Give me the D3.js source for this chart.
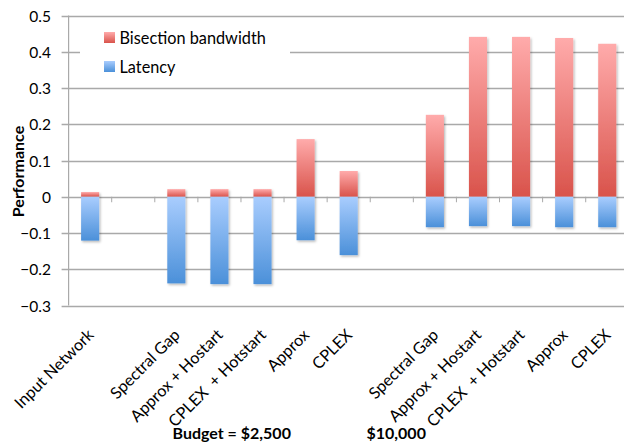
<!DOCTYPE html>
<html>
<head>
<meta charset="utf-8">
<script src="https://cdn.jsdelivr.net/npm/d3@7"></script>
<style>
  html, body { margin: 0; padding: 0; background: #fff; }
  svg { display: block; }
  text { font-family: Lato, "Open Sans", sans-serif; fill: #000; }
</style>
</head>
<body>
<svg id="chart" width="624" height="443"></svg>
<script>
// Category slots along the x axis; empty strings are spacer slots between groups.
const categories = [
  "Input Network", "",
  "Spectral Gap", "Approx + Hostart", "CPLEX  + Hotstart", "Approx", "CPLEX", "",
  "Spectral Gap", "Approx + Hostart", "CPLEX  + Hotstart", "Approx", "CPLEX"
];
// Series values per slot (null = no bar).
const bandwidth = [0.013, null, 0.021, 0.021, 0.021, 0.159, 0.071, null, 0.226, 0.441, 0.441, 0.438, 0.422];
const latency   = [-0.121, null, -0.239, -0.241, -0.241, -0.120, -0.161, null, -0.084, -0.081, -0.081, -0.084, -0.084];
const yTicks = [-0.3, -0.2, -0.1, 0, 0.1, 0.2, 0.3, 0.4, 0.5];
const seriesNames = ["Bisection bandwidth", "Latency"];
const groupLabels = ["Budget = $2,500", "$10,000"];

const svg = d3.select("#chart");
const defs = svg.append("defs");

function grad(id, c0, c1) {
  const g = defs.append("linearGradient").attr("id", id)
    .attr("x1", 0).attr("y1", 0).attr("x2", 0).attr("y2", 1);
  g.append("stop").attr("offset", "0%").attr("stop-color", c0);
  g.append("stop").attr("offset", "100%").attr("stop-color", c1);
}
grad("gRed", "#ffabab", "#d9534b");
grad("gBlue", "#a9cdfe", "#4b90d9");

const shadow = defs.append("filter").attr("id", "shadow")
  .attr("x", "-30%").attr("y", "-10%").attr("width", "160%").attr("height", "130%");
shadow.append("feDropShadow").attr("dx", 1.2).attr("dy", 1.5)
  .attr("stdDeviation", 1).attr("flood-color", "#000").attr("flood-opacity", 0.28);

const plotLeft = 68.6, plotRight = 628.8, plotTop = 15.5, plotBottom = 305.5;

const x = d3.scaleBand()
  .domain(d3.range(categories.length))
  .range([plotLeft, plotRight])
  .paddingInner(0.58)
  .paddingOuter(0.29);
const step = x.step();

const y = d3.scaleLinear().domain([-0.3, 0.5]).range([plotBottom, plotTop]);

// Horizontal gridlines with small outer ticks on the value axis
const gridColor = "#a9a9a9";
svg.append("g").selectAll("line").data(yTicks).join("line")
  .attr("x1", plotLeft - 7).attr("x2", 624)
  .attr("y1", d => Math.round(y(d)) + 0.5).attr("y2", d => Math.round(y(d)) + 0.5)
  .attr("stroke", gridColor).attr("stroke-width", 1.3);

// Value axis line
svg.append("line")
  .attr("x1", plotLeft).attr("x2", plotLeft)
  .attr("y1", y(0.5)).attr("y2", y(-0.3))
  .attr("stroke", gridColor).attr("stroke-width", 1.2);

// Category tick marks on the zero line, at slot boundaries
svg.append("g").selectAll("line").data(d3.range(1, categories.length)).join("line")
  .attr("x1", i => plotLeft + i * step).attr("x2", i => plotLeft + i * step)
  .attr("y1", y(0)).attr("y2", y(0) + 5.5)
  .attr("stroke", gridColor).attr("stroke-width", 1);

// Value tick labels
svg.append("g").selectAll("text").data(yTicks).join("text")
  .attr("x", 51).attr("y", d => y(d) + 6)
  .attr("text-anchor", "end")
  .attr("font-size", 15.5)
  .text(d => d3.format("")(d));

// Axis title
svg.append("text")
  .attr("transform", "translate(23.5,171.5) rotate(-90)")
  .attr("text-anchor", "middle")
  .attr("font-weight", "bold")
  .attr("font-size", 16)
  .text("Performance");

// Bars
const idx = d3.range(categories.length);
const bars = svg.append("g").attr("filter", "url(#shadow)");
bars.selectAll("rect.bw").data(idx.filter(i => bandwidth[i] != null)).join("rect")
  .attr("class", "bw")
  .attr("x", i => x(i)).attr("width", x.bandwidth())
  .attr("y", i => y(bandwidth[i])).attr("height", i => y(0) - y(bandwidth[i]))
  .attr("fill", "url(#gRed)");
bars.selectAll("rect.lat").data(idx.filter(i => latency[i] != null)).join("rect")
  .attr("class", "lat")
  .attr("x", i => x(i)).attr("width", x.bandwidth())
  .attr("y", y(0)).attr("height", i => y(latency[i]) - y(0))
  .attr("fill", "url(#gBlue)");

// Rotated category labels
svg.append("g").selectAll("text").data(idx.filter(i => categories[i])).join("text")
  .attr("transform", i => `translate(${x(i) + x.bandwidth() / 2 + 4.5},336) rotate(-45)`)
  .attr("text-anchor", "end")
  .attr("font-size", 16.2)
  .style("white-space", "pre")
  .text(i => categories[i]);

// Group labels under the categories
svg.append("text").attr("x", 172.5).attr("y", 438.5)
  .attr("font-weight", "bold").attr("font-size", 16).text(groupLabels[0]);
svg.append("text").attr("x", 366.5).attr("y", 438.5)
  .attr("font-weight", "bold").attr("font-size", 16).text(groupLabels[1]);

// Legend
const legend = svg.append("g");
legend.append("rect").attr("x", 80).attr("y", 20).attr("width", 210).attr("height", 64)
  .attr("fill", "#fff");
const lg = legend.selectAll("g").data(seriesNames).join("g")
  .attr("transform", (d, i) => `translate(104,${32 + i * 29})`);
lg.append("rect").attr("width", 11).attr("height", 11)
  .attr("fill", (d, i) => i === 0 ? "url(#gRed)" : "url(#gBlue)");
lg.append("text").attr("x", 15.5).attr("y", 11.8)
  .attr("font-size", 16.3).text(d => d);
</script>
</body>
</html>
